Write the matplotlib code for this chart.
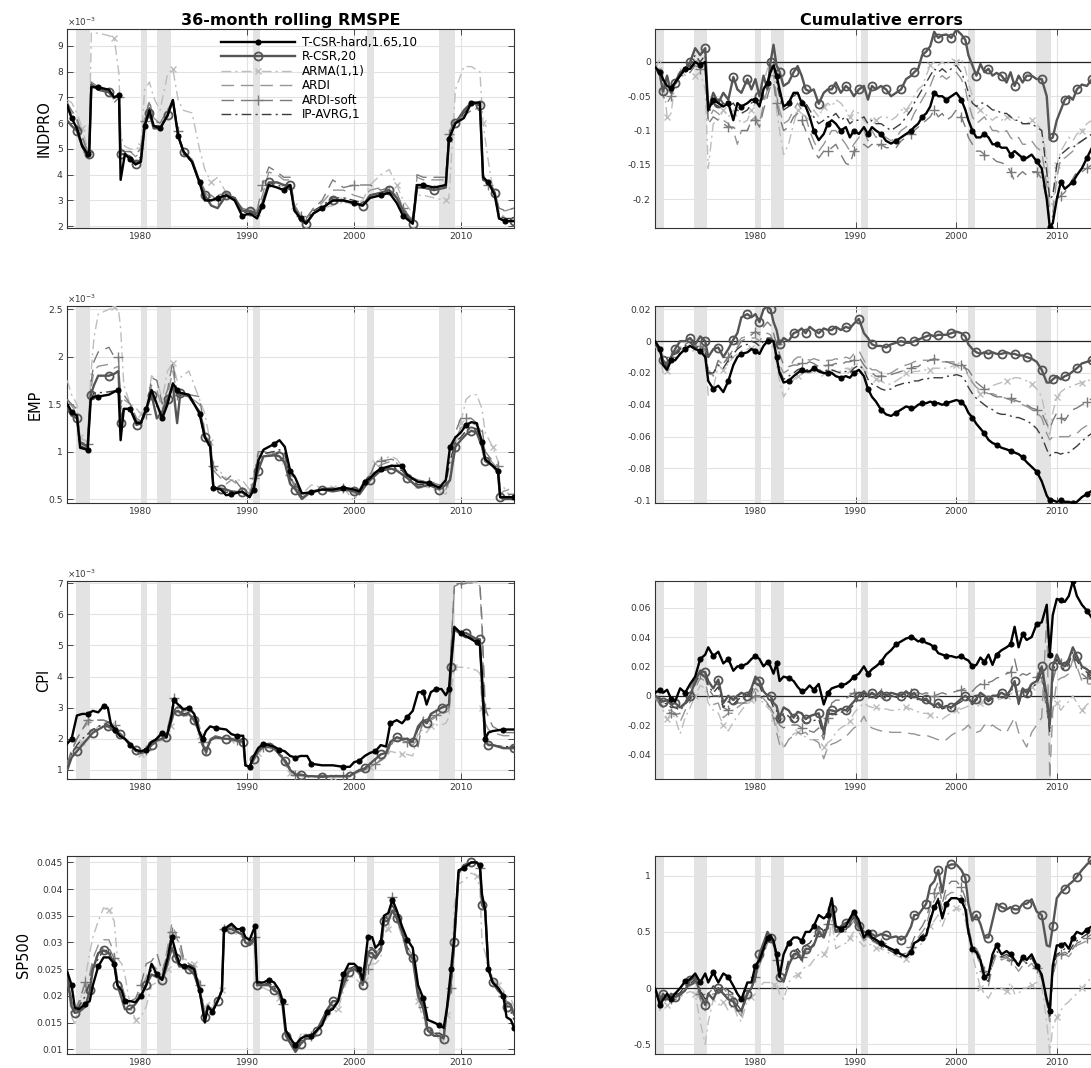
import numpy as np
import matplotlib
matplotlib.use("Agg")
import matplotlib.pyplot as plt
from matplotlib.ticker import FixedLocator, FuncFormatter

plt.rcParams['font.family'] = ['DejaVu Sans']
plt.rcParams['axes.unicode_minus'] = False

# ---------------------------------------------------------------- data
series_names = ["T-CSR-hard,1.65,10", "R-CSR,20", "ARMA(1,1)", "ARDI", "ARDI-soft", "IP-AVRG,1"]
row_labels = ["INDPRO", "EMP", "CPI", "SP500"]
titles = ["36-month rolling RMSPE", "Cumulative errors"]
recessions = [(1969.9, 1970.85), (1973.9, 1975.2), (1980.0, 1980.55), (1981.55, 1982.85),
              (1990.55, 1991.2), (2001.2, 2001.85), (2007.95, 2009.45)]
year_ticks = [1980, 1990, 2000, 2010]

# ---- rolling RMSPE, INDPRO (x 1e-3)
yrs_indpro = [1973.1, 1973.5, 1974.0, 1974.5, 1975.0, 1975.15, 1975.35, 1976.0, 1977.0, 1977.5,
              1977.95, 1978.1, 1978.5, 1979.0, 1979.5, 1980.0, 1980.35, 1980.8, 1981.2, 1981.8,
              1982.5, 1983.0, 1983.5, 1984.0, 1984.8, 1985.5, 1986.0, 1986.6, 1987.2, 1988.0,
              1988.8, 1989.5, 1990.2, 1990.9, 1991.4, 1992.0, 1992.8, 1993.4, 1994.0, 1994.4,
              1995.0, 1995.5, 1996.2, 1997.0, 1998.0, 1999.0, 2000.0, 2000.8, 2001.5, 2002.5,
              2003.3, 2004.0, 2004.6, 2005.5, 2005.9, 2006.5, 2007.5, 2008.6, 2008.9, 2009.5,
              2010.3, 2011.0, 2011.8, 2012.1, 2012.6, 2013.2, 2013.6, 2014.2, 2015.0]
indpro_tcsr = [6.7, 6.2, 5.8, 5.1, 4.8, 4.8, 7.4, 7.4, 7.3, 7.0, 7.1, 3.8, 4.8, 4.6, 4.4, 4.5, 5.9, 6.5, 5.9, 5.8,
               6.3, 6.9, 5.5, 4.9, 4.5, 3.7, 3.0, 3.0, 3.1, 3.2, 3.0, 2.4, 2.5, 2.3, 2.8, 3.6, 3.5, 3.4, 3.6, 2.6,
               2.3, 2.1, 2.5, 2.7, 3.0, 3.0, 2.9, 2.8, 3.1, 3.2, 3.3, 2.9, 2.4, 2.1, 3.6, 3.6, 3.5, 3.6, 5.4, 6.0,
               6.2, 6.8, 6.8, 3.9, 3.7, 3.2, 2.3, 2.2, 2.2]
indpro_rcsr = [6.1, 5.9, 5.7, 5.1, 4.7, 4.8, 7.5, 7.3, 7.2, 7.0, 7.1, 4.8, 4.8, 4.7, 4.4, 4.6, 5.9, 6.4, 5.8, 5.8,
               6.3, 6.9, 5.5, 4.9, 4.5, 3.7, 3.2, 2.8, 2.7, 3.2, 3.1, 2.6, 2.6, 2.5, 2.9, 3.7, 3.7, 3.6, 3.6, 2.7,
               2.2, 2.1, 2.5, 2.7, 3.0, 3.0, 2.9, 2.8, 3.2, 3.3, 3.4, 3.1, 2.6, 2.1, 3.5, 3.5, 3.4, 3.5, 5.4, 6.0,
               6.5, 6.8, 6.7, 3.8, 3.7, 3.3, 2.3, 2.2, 2.2]
indpro_arma = [6.9, 6.8, 6.4, 5.8, 5.0, 5.1, 9.5, 9.5, 9.4, 9.3, 7.9, 5.5, 5.1, 5.0, 5.0, 5.1, 7.3, 7.6, 7.0, 6.5,
               7.9, 8.1, 6.9, 6.5, 6.4, 5.0, 4.2, 3.7, 3.9, 3.3, 3.1, 2.6, 2.5, 2.5, 3.0, 3.7, 3.7, 3.5, 3.5, 2.8,
               2.4, 2.3, 2.5, 2.7, 2.8, 3.0, 2.8, 3.0, 3.6, 4.0, 4.2, 3.6, 3.0, 2.5, 3.2, 3.2, 3.1, 3.0, 3.1, 7.3,
               8.2, 8.2, 8.0, 6.0, 4.5, 3.0, 2.6, 2.3, 2.0]
indpro_ardi = [6.8, 6.4, 6.1, 5.4, 4.9, 5.0, 7.5, 7.4, 7.2, 6.9, 7.0, 5.0, 4.9, 4.9, 4.7, 4.9, 6.2, 6.8, 6.2, 6.0,
               6.5, 6.9, 5.6, 4.9, 4.6, 3.8, 3.3, 3.1, 3.2, 3.3, 3.1, 2.7, 2.7, 2.6, 3.2, 4.1, 4.0, 3.8, 3.8, 2.8,
               2.4, 2.3, 2.7, 2.9, 3.4, 3.4, 3.2, 3.1, 3.4, 3.5, 3.4, 3.2, 2.7, 2.3, 3.9, 3.8, 3.8, 3.8, 5.5, 6.0,
               6.3, 6.5, 6.6, 4.0, 3.7, 3.4, 2.6, 2.6, 2.7]
indpro_ardisoft = [6.8, 6.5, 6.2, 5.5, 4.9, 5.0, 7.6, 7.4, 7.2, 6.8, 7.0, 5.0, 4.9, 4.9, 4.8, 5.0, 6.1, 6.9, 6.1, 6.0,
                   6.5, 6.9, 5.7, 4.8, 4.6, 3.8, 3.4, 3.2, 3.0, 3.3, 3.0, 2.7, 2.6, 2.6, 3.6, 4.3, 4.1, 3.9, 3.9, 2.8,
                   2.4, 2.3, 2.7, 3.0, 3.8, 3.5, 3.6, 3.6, 3.6, 3.4, 3.5, 3.3, 2.7, 2.2, 4.0, 3.9, 3.9, 3.9, 5.6, 6.2,
                   6.3, 6.5, 6.5, 4.0, 3.6, 3.3, 2.7, 2.6, 2.7]
indpro_ipavrg = [6.6, 6.2, 5.9, 5.2, 4.8, 4.9, 7.4, 7.4, 7.2, 7.0, 7.1, 4.7, 4.8, 4.7, 4.5, 4.7, 6.0, 6.6, 5.9, 5.9,
                 6.3, 6.9, 5.5, 4.8, 4.5, 3.7, 3.1, 3.0, 3.1, 3.2, 3.1, 2.5, 2.6, 2.4, 2.9, 3.7, 3.6, 3.5, 3.6, 2.7,
                 2.3, 2.2, 2.6, 2.8, 3.1, 3.1, 3.0, 2.9, 3.2, 3.3, 3.4, 3.1, 2.6, 2.2, 3.6, 3.6, 3.5, 3.6, 5.4, 6.0,
                 6.4, 6.7, 6.7, 3.9, 3.7, 3.2, 2.4, 2.3, 2.3]

# ---- rolling RMSPE, EMP (x 1e-3)
yrs_emp = [1973.1, 1973.5, 1974.0, 1974.3, 1975.0, 1975.3, 1975.6, 1976.0, 1977.0, 1977.5,
           1977.9, 1978.1, 1978.4, 1979.0, 1979.6, 1980.0, 1980.5, 1981.0, 1981.5, 1982.0,
           1982.5, 1983.0, 1983.4, 1983.7, 1984.5, 1985.5, 1986.0, 1986.5, 1986.8, 1987.5,
           1988.0, 1988.5, 1989.5, 1990.2, 1990.6, 1991.0, 1991.5, 1992.5, 1993.0, 1993.5,
           1994.0, 1994.5, 1995.1, 1996.0, 1997.0, 1998.0, 1999.0, 2000.0, 2000.5, 2001.0,
           2001.5, 2002.0, 2002.5, 2003.5, 2004.0, 2004.5, 2005.0, 2006.0, 2007.0, 2008.0,
           2008.6, 2009.0, 2009.5, 2010.0, 2010.5, 2011.0, 2011.5, 2012.0, 2012.3, 2013.0,
           2013.5, 2013.7, 2014.0, 2015.0]
emp_tcsr = [1.50, 1.42, 1.38, 1.04, 1.02, 1.55, 1.58, 1.58, 1.60, 1.63, 1.65, 1.12, 1.45, 1.45, 1.30, 1.30, 1.45, 1.65, 1.50, 1.35,
            1.50, 1.72, 1.65, 1.62, 1.60, 1.40, 1.15, 1.05, 0.62, 0.60, 0.54, 0.55, 0.58, 0.52, 0.60, 0.90, 1.02, 1.08, 1.12, 1.05,
            0.80, 0.72, 0.56, 0.57, 0.60, 0.60, 0.62, 0.60, 0.58, 0.68, 0.72, 0.78, 0.82, 0.85, 0.85, 0.85, 0.75, 0.68, 0.67, 0.62,
            0.70, 1.05, 1.15, 1.20, 1.28, 1.31, 1.30, 1.10, 0.92, 0.85, 0.80, 0.52, 0.52, 0.52]
emp_rcsr = [1.45, 1.38, 1.35, 1.10, 1.05, 1.60, 1.70, 1.80, 1.80, 1.82, 1.85, 1.30, 1.45, 1.45, 1.28, 1.30, 1.45, 1.60, 1.35, 1.42,
            1.55, 1.70, 1.30, 1.62, 1.58, 1.42, 1.15, 1.10, 0.62, 0.61, 0.60, 0.58, 0.57, 0.52, 0.64, 0.80, 0.95, 0.96, 0.95, 0.88,
            0.66, 0.60, 0.50, 0.58, 0.60, 0.58, 0.60, 0.58, 0.55, 0.63, 0.70, 0.75, 0.80, 0.82, 0.80, 0.76, 0.72, 0.62, 0.65, 0.60,
            0.65, 0.70, 1.05, 1.12, 1.18, 1.22, 1.20, 1.05, 0.90, 0.85, 0.78, 0.52, 0.50, 0.50]
emp_arma = [1.75, 1.60, 1.50, 1.15, 1.10, 1.80, 2.20, 2.45, 2.50, 2.52, 2.50, 2.30, 1.70, 1.50, 1.45, 1.40, 1.45, 1.80, 1.75, 1.55,
            1.85, 1.93, 1.75, 1.78, 1.85, 1.55, 1.40, 1.10, 0.80, 0.78, 0.72, 0.70, 0.70, 0.60, 0.75, 0.98, 1.00, 1.00, 0.95, 0.90,
            0.80, 0.65, 0.55, 0.65, 0.62, 0.62, 0.62, 0.48, 0.60, 0.65, 0.78, 0.88, 0.92, 0.95, 0.92, 0.85, 0.75, 0.65, 0.62, 0.58,
            0.55, 0.68, 1.05, 1.30, 1.55, 1.60, 1.60, 1.45, 1.20, 1.05, 0.90, 0.65, 0.63, 0.46]
emp_ardi = [1.55, 1.48, 1.42, 1.08, 1.05, 1.65, 1.85, 1.90, 1.92, 1.88, 1.90, 1.45, 1.55, 1.50, 1.32, 1.30, 1.42, 1.70, 1.65, 1.45,
            1.60, 1.85, 1.60, 1.60, 1.58, 1.50, 1.18, 1.08, 0.80, 0.72, 0.66, 0.70, 0.62, 0.55, 0.68, 0.95, 0.98, 0.97, 0.98, 0.92,
            0.72, 0.62, 0.52, 0.58, 0.60, 0.60, 0.62, 0.56, 0.58, 0.66, 0.72, 0.82, 0.86, 0.90, 0.88, 0.82, 0.74, 0.68, 0.66, 0.62,
            0.60, 0.70, 1.12, 1.25, 1.28, 1.30, 1.28, 1.20, 0.98, 0.88, 0.82, 0.55, 0.58, 0.62]
emp_ardisoft = [1.55, 1.50, 1.45, 1.10, 1.08, 1.70, 1.95, 2.05, 2.10, 2.00, 2.00, 1.50, 1.60, 1.50, 1.35, 1.32, 1.40, 1.78, 1.75, 1.50,
                1.65, 1.95, 1.60, 1.60, 1.60, 1.58, 1.20, 1.10, 0.85, 0.75, 0.70, 0.75, 0.60, 0.55, 0.72, 1.00, 1.00, 0.98, 1.00, 0.95,
                0.75, 0.62, 0.55, 0.58, 0.60, 0.62, 0.62, 0.57, 0.60, 0.70, 0.75, 0.88, 0.90, 0.92, 0.90, 0.85, 0.75, 0.70, 0.68, 0.65,
                0.60, 0.72, 1.20, 1.35, 1.35, 1.35, 1.30, 1.25, 1.00, 0.90, 0.85, 0.55, 0.55, 0.55]
emp_ipavrg = [1.48, 1.40, 1.36, 1.06, 1.03, 1.55, 1.62, 1.62, 1.63, 1.64, 1.65, 1.30, 1.45, 1.45, 1.30, 1.28, 1.42, 1.62, 1.48, 1.38,
              1.52, 1.70, 1.62, 1.60, 1.58, 1.42, 1.15, 1.06, 0.62, 0.60, 0.57, 0.58, 0.57, 0.52, 0.62, 0.85, 0.98, 1.00, 1.02, 0.98,
              0.72, 0.66, 0.52, 0.58, 0.60, 0.59, 0.61, 0.59, 0.56, 0.65, 0.70, 0.76, 0.80, 0.83, 0.82, 0.80, 0.73, 0.65, 0.66, 0.61,
              0.66, 0.90, 1.10, 1.15, 1.22, 1.25, 1.24, 1.08, 0.92, 0.85, 0.80, 0.52, 0.51, 0.51]

# ---- rolling RMSPE, CPI (x 1e-3)
yrs_cpi = [1973.1, 1973.5, 1974.0, 1974.5, 1975.0, 1975.5, 1976.0, 1976.5, 1976.9, 1977.2,
           1977.6, 1978.0, 1978.5, 1979.0, 1979.5, 1980.0, 1980.5, 1981.0, 1981.5, 1982.0,
           1982.4, 1982.8, 1983.1, 1983.5, 1984.0, 1984.5, 1985.0, 1985.5, 1985.8, 1986.1,
           1986.5, 1987.0, 1988.0, 1988.5, 1989.0, 1989.6, 1989.8, 1990.2, 1990.6, 1991.0,
           1991.5, 1992.0, 1992.5, 1993.0, 1993.5, 1994.0, 1994.5, 1995.0, 1995.6, 1996.0,
           1997.0, 1998.0, 1999.0, 1999.6, 2000.0, 2000.5, 2001.0, 2001.5, 2002.0, 2002.5,
           2003.0, 2003.4, 2004.0, 2004.5, 2005.0, 2005.5, 2006.0, 2006.5, 2006.8, 2007.2,
           2007.7, 2008.2, 2008.6, 2008.9, 2009.1, 2009.4, 2010.0, 2010.5, 2011.0, 2011.5,
           2011.8, 2012.0, 2012.3, 2012.6, 2013.0, 2014.0, 2015.0]
cpi_tcsr = [1.85, 2.0, 2.75, 2.8, 2.8, 2.9, 2.85, 3.05, 3.0, 2.45, 2.3, 2.1, 2.0, 1.8, 1.65, 1.6, 1.65, 1.9, 2.0, 2.2,
            2.05, 2.6, 3.25, 3.1, 2.95, 3.0, 2.8, 2.2, 2.0, 2.25, 2.4, 2.35, 2.3, 2.15, 2.1, 2.1, 1.15, 1.1, 1.45, 1.7,
            1.85, 1.8, 1.75, 1.65, 1.6, 1.45, 1.4, 1.45, 1.45, 1.2, 1.15, 1.15, 1.1, 1.1, 1.25, 1.3, 1.45, 1.55, 1.6, 1.8,
            1.75, 2.5, 2.6, 2.5, 2.7, 2.9, 3.5, 3.5, 3.1, 3.5, 3.6, 3.6, 3.4, 3.6, 4.5, 5.6, 5.4, 5.3, 5.2, 5.1,
            5.0, 4.0, 2.0, 2.2, 2.25, 2.3, 2.3]
cpi_rcsr = [1.0, 1.4, 1.6, 1.8, 2.0, 2.2, 2.3, 2.4, 2.4, 2.35, 2.2, 2.15, 2.0, 1.85, 1.65, 1.55, 1.6, 1.8, 1.95, 2.0,
            2.05, 2.5, 2.85, 2.9, 2.75, 2.8, 2.6, 2.2, 1.8, 1.6, 1.95, 2.05, 2.0, 2.0, 1.95, 1.9, 1.15, 1.1, 1.35, 1.6,
            1.75, 1.75, 1.7, 1.5, 1.3, 1.0, 0.85, 0.85, 0.8, 0.8, 0.78, 0.8, 0.8, 0.8, 0.9, 1.0, 1.05, 1.2, 1.35, 1.5,
            1.55, 1.9, 2.05, 2.0, 2.0, 1.9, 2.4, 2.6, 2.5, 2.8, 2.9, 3.0, 3.05, 3.1, 4.3, 5.5, 5.4, 5.4, 5.3, 5.2,
            5.2, 3.7, 1.9, 1.8, 1.8, 1.7, 1.7]
cpi_arma = [1.25, 1.5, 1.7, 1.9, 2.0, 2.2, 2.4, 2.5, 2.5, 2.45, 2.35, 2.2, 2.0, 1.8, 1.6, 1.5, 1.55, 1.75, 1.9, 1.95,
            2.0, 2.4, 2.8, 2.85, 2.7, 2.75, 2.55, 2.1, 1.7, 1.45, 1.85, 2.0, 2.0, 1.95, 1.9, 1.85, 1.2, 1.15, 1.3, 1.55,
            1.7, 1.7, 1.65, 1.45, 1.2, 0.9, 0.8, 0.8, 0.75, 0.78, 0.8, 0.78, 0.78, 0.8, 0.85, 0.95, 1.0, 1.1, 1.2, 1.3,
            1.4, 1.6, 1.55, 1.5, 1.5, 1.45, 2.2, 2.3, 2.2, 2.4, 2.45, 2.45, 2.5, 2.7, 3.5, 4.3, 4.3, 4.3, 4.25, 4.2,
            4.1, 3.0, 1.9, 1.85, 1.8, 1.75, 1.75]
cpi_ardi = [1.15, 1.6, 2.0, 2.3, 2.5, 2.55, 2.6, 2.6, 2.55, 2.45, 2.4, 2.2, 2.0, 1.8, 1.6, 1.5, 1.6, 1.8, 2.0, 2.15,
            2.15, 2.7, 3.25, 3.15, 2.9, 2.9, 2.75, 2.4, 1.9, 1.5, 1.95, 2.05, 2.0, 1.95, 1.95, 1.9, 1.15, 1.1, 1.4, 1.6,
            1.75, 1.75, 1.65, 1.5, 1.3, 1.0, 0.85, 0.85, 0.82, 0.8, 0.8, 0.82, 0.8, 0.82, 0.9, 0.95, 1.0, 1.1, 1.2, 1.35,
            1.45, 1.85, 1.95, 1.95, 1.9, 1.8, 2.0, 2.6, 2.5, 2.6, 2.7, 2.8, 2.85, 2.9, 5.0, 6.8, 6.95, 7.0, 7.0, 7.0,
            6.9, 5.5, 2.5, 2.3, 2.2, 2.1, 2.1]
cpi_ardisoft = [1.2, 1.65, 2.0, 2.3, 2.6, 2.65, 2.6, 2.6, 2.55, 2.5, 2.45, 2.2, 2.05, 1.8, 1.6, 1.55, 1.65, 1.8, 2.05, 2.2,
                2.2, 2.75, 3.3, 3.2, 2.9, 2.95, 2.8, 2.4, 1.9, 1.5, 2.0, 2.1, 2.0, 1.95, 1.95, 1.95, 1.15, 1.1, 1.4, 1.6,
                1.75, 1.75, 1.7, 1.5, 1.3, 1.0, 0.85, 0.85, 0.82, 0.8, 0.8, 0.82, 0.82, 0.85, 0.9, 0.95, 1.0, 1.1, 1.2, 1.3,
                1.4, 1.8, 1.95, 1.95, 1.9, 1.85, 1.75, 2.7, 2.6, 2.65, 2.75, 2.85, 2.95, 3.0, 5.0, 6.9, 7.0, 7.05, 7.05, 7.05,
                7.0, 5.8, 3.0, 2.7, 2.4, 2.2, 2.2]
cpi_ipavrg = [1.05, 1.5, 1.8, 2.0, 2.15, 2.3, 2.4, 2.45, 2.45, 2.4, 2.3, 2.15, 2.0, 1.8, 1.6, 1.55, 1.6, 1.8, 1.95, 2.05,
              2.1, 2.6, 3.1, 3.0, 2.8, 2.85, 2.65, 2.25, 1.8, 1.55, 1.95, 2.05, 2.0, 2.0, 1.95, 1.9, 1.15, 1.1, 1.35, 1.6,
              1.75, 1.75, 1.7, 1.55, 1.35, 1.05, 0.88, 0.85, 0.82, 0.8, 0.8, 0.8, 0.8, 0.82, 0.9, 1.0, 1.05, 1.2, 1.35, 1.5,
              1.55, 1.9, 2.05, 2.0, 2.0, 1.9, 2.3, 2.6, 2.5, 2.75, 2.9, 3.0, 3.05, 3.1, 4.5, 5.5, 5.35, 5.35, 5.25, 5.2,
              5.1, 3.5, 1.9, 1.85, 1.8, 1.75, 1.75]

# ---- rolling RMSPE, SP500
yrs_sp500 = [1973.1, 1973.5, 1973.8, 1974.2, 1974.8, 1975.2, 1975.5, 1976.0, 1976.5, 1977.0,
             1977.5, 1977.8, 1978.2, 1978.5, 1979.0, 1979.5, 1980.0, 1980.5, 1981.0, 1981.5,
             1982.0, 1982.5, 1982.9, 1983.3, 1983.6, 1984.0, 1984.5, 1985.0, 1985.5, 1986.0,
             1986.3, 1986.7, 1987.2, 1987.6, 1987.8, 1988.5, 1989.0, 1989.5, 1989.8, 1990.2,
             1990.7, 1990.9, 1991.5, 1992.0, 1992.5, 1993.0, 1993.3, 1993.6, 1994.2, 1994.5,
             1995.0, 1995.5, 1996.0, 1996.5, 1997.0, 1997.5, 1998.0, 1998.5, 1999.0, 1999.5,
             2000.0, 2000.5, 2000.8, 2001.0, 2001.3, 2001.7, 2002.0, 2002.5, 2002.8, 2003.2,
             2003.6, 2004.0, 2004.5, 2005.0, 2005.5, 2006.0, 2006.5, 2006.9, 2007.5, 2008.0,
             2008.4, 2008.7, 2009.1, 2009.4, 2009.8, 2010.3, 2011.0, 2011.5, 2011.8, 2012.0,
             2012.3, 2012.6, 2013.0, 2013.5, 2014.0, 2014.3, 2014.7, 2015.0]
sp500_tcsr = [.0245, .022, .0178, .0175, .0185, .019, .022, .0255, .0272, .0272,
              .026, .022, .021, .019, .019, .0188, .020, .022, .026, .024,
              .023, .027, .031, .028, .026, .0255, .0255, .025, .021, .015,
              .018, .017, .019, .021, .0325, .0335, .0325, .0325, .031, .0305,
              .033, .0225, .0225, .023, .0225, .021, .019, .0135, .0115, .0108,
              .012, .0125, .0125, .0135, .0145, .017, .0175, .019, .024, .026,
              .026, .025, .023, .026, .031, .031, .029, .030, .035, .0355,
              .038, .036, .033, .0305, .029, .022, .0195, .0155, .015, .0145,
              .014, .0175, .025, .031, .0435, .044, .045, .045, .0445, .039,
              .036, .025, .0225, .0215, .020, .016, .0155, .014]
sp500_rcsr = [.0235, .018, .0168, .017, .018, .021, .025, .028, .0285, .028,
              .026, .022, .0195, .0175, .0175, .0185, .020, .022, .024, .0235,
              .023, .026, .029, .027, .0255, .0255, .025, .024, .021, .016,
              .018, .017, .019, .021, .0325, .0325, .032, .0315, .030, .0295,
              .0305, .022, .022, .022, .021, .0205, .018, .0125, .0105, .0095,
              .011, .012, .012, .0135, .0155, .0175, .019, .019, .022, .0245,
              .025, .0245, .022, .024, .028, .028, .027, .0285, .034, .034,
              .036, .0345, .032, .028, .027, .020, .0175, .0135, .0125, .0125,
              .012, .0175, .023, .030, .043, .0445, .045, .045, .044, .037,
              .036, .025, .0225, .021, .020, .018, .018, .0165]
sp500_arma = [.0235, .016, .0148, .018, .0235, .028, .031, .034, .0365, .036,
              .034, .027, .026, .024, .018, .0155, .016, .018, .022, .0225,
              .0225, .025, .029, .031, .030, .027, .0265, .026, .022, .0175,
              .019, .018, .0195, .021, .032, .032, .0315, .031, .030, .030,
              .030, .0215, .0215, .021, .021, .0195, .018, .013, .011, .0105,
              .0128, .0125, .0125, .013, .0145, .016, .017, .0175, .021, .0235,
              .0235, .0225, .021, .023, .025, .026, .026, .027, .032, .0325,
              .036, .034, .031, .028, .0265, .019, .0155, .0135, .0125, .012,
              .0115, .0165, .022, .037, .041, .0415, .043, .0425, .040, .030,
              .028, .025, .0235, .022, .021, .020, .0195, .018]
sp500_ardi = [.024, .019, .017, .0185, .021, .024, .027, .0295, .0305, .0305,
              .028, .023, .022, .0195, .0185, .019, .021, .0235, .026, .025,
              .024, .029, .0335, .0315, .029, .0265, .026, .0255, .0225, .0165,
              .0185, .017, .019, .021, .032, .033, .032, .0315, .030, .030,
              .031, .022, .022, .0225, .0215, .020, .0185, .013, .011, .010,
              .0115, .0125, .0125, .0135, .015, .017, .018, .019, .0225, .025,
              .025, .024, .022, .024, .028, .029, .028, .029, .034, .035,
              .037, .035, .032, .029, .0275, .021, .018, .014, .013, .013,
              .0125, .017, .0225, .030, .043, .044, .045, .045, .044, .038,
              .036, .025, .023, .0215, .0205, .019, .0185, .017]
sp500_ardisoft = [.0245, .019, .0172, .019, .0225, .0235, .026, .028, .029, .029,
                  .027, .023, .022, .020, .019, .0195, .022, .026, .0265, .028,
                  .0245, .028, .032, .031, .031, .027, .026, .0255, .022, .016,
                  .0185, .0175, .019, .021, .0325, .033, .032, .0315, .030, .030,
                  .031, .022, .022, .0225, .0215, .020, .0185, .013, .011, .010,
                  .012, .0128, .0125, .0135, .015, .017, .018, .019, .023, .025,
                  .025, .024, .022, .024, .025, .027, .028, .029, .034, .035,
                  .0385, .035, .032, .0285, .027, .021, .018, .014, .013, .0125,
                  .012, .0175, .0215, .029, .043, .044, .045, .045, .044, .038,
                  .0355, .025, .023, .0215, .020, .019, .0185, .017]
sp500_ipavrg = [.024, .0185, .017, .018, .020, .0225, .025, .027, .0285, .0285,
                .0265, .022, .021, .019, .018, .0185, .020, .022, .025, .024,
                .023, .0265, .030, .028, .026, .0255, .025, .025, .021, .0155,
                .018, .017, .019, .021, .0325, .033, .032, .0315, .030, .030,
                .031, .022, .022, .0225, .0215, .0205, .0185, .013, .0108, .010,
                .0115, .012, .0125, .0135, .015, .017, .018, .019, .023, .025,
                .0255, .0245, .0225, .025, .029, .029, .028, .029, .0345, .035,
                .037, .035, .0325, .029, .028, .021, .018, .014, .013, .013,
                .0125, .0175, .023, .030, .043, .0445, .045, .045, .0445, .038,
                .036, .025, .0225, .0215, .020, .017, .017, .0155]

# ---- cumulative errors (shared dates)
yrs_cum = [1970.0, 1970.5, 1970.8, 1971.2, 1971.6, 1972.0, 1972.5, 1973.0, 1973.5, 1974.0,
           1974.5, 1975.0, 1975.3, 1975.8, 1976.3, 1976.8, 1977.3, 1977.8, 1978.2, 1978.6,
           1979.2, 1979.6, 1980.0, 1980.4, 1980.8, 1981.2, 1981.5, 1981.8, 1982.1, 1982.4,
           1982.8, 1983.3, 1983.8, 1984.2, 1984.6, 1985.0, 1985.4, 1985.8, 1986.3, 1986.8,
           1987.2, 1987.6, 1988.0, 1988.5, 1989.0, 1989.4, 1989.8, 1990.3, 1990.8, 1991.2,
           1991.6, 1992.0, 1992.5, 1993.0, 1993.5, 1994.0, 1994.5, 1995.0, 1995.5, 1995.8,
           1996.2, 1996.6, 1997.0, 1997.4, 1997.8, 1998.2, 1998.6, 1999.0, 1999.5, 2000.0,
           2000.5, 2000.9, 2001.2, 2001.6, 2002.0, 2002.4, 2002.8, 2003.2, 2003.6, 2004.0,
           2004.5, 2005.0, 2005.4, 2005.8, 2006.2, 2006.6, 2007.0, 2007.5, 2008.0, 2008.5,
           2009.0, 2009.3, 2009.6, 2010.0, 2010.4, 2010.8, 2011.2, 2011.6, 2012.0, 2012.5,
           2013.0, 2013.5, 2014.0, 2014.5, 2015.0]

cum_indpro_tcsr = [-0.008, -0.015, -0.025, -0.035, -0.038, -0.03, -0.02, -0.01, -0.01, 0.0,
                   -0.005, 0.0, -0.07, -0.055, -0.06, -0.065, -0.06, -0.085, -0.06, -0.065,
                   -0.06, -0.055, -0.055, -0.065, -0.04, -0.03, -0.015, -0.005, -0.02, -0.04,
                   -0.065, -0.06, -0.045, -0.045, -0.06, -0.065, -0.08, -0.1, -0.114, -0.105,
                   -0.09, -0.085, -0.09, -0.1, -0.095, -0.11, -0.1, -0.105, -0.095, -0.105,
                   -0.095, -0.1, -0.105, -0.115, -0.119, -0.115, -0.11, -0.105, -0.1, -0.095,
                   -0.09, -0.08, -0.075, -0.065, -0.045, -0.05, -0.05, -0.055, -0.05, -0.045,
                   -0.055, -0.07, -0.085, -0.1, -0.11, -0.11, -0.105, -0.11, -0.12, -0.12,
                   -0.125, -0.125, -0.135, -0.13, -0.135, -0.14, -0.14, -0.135, -0.145, -0.155,
                   -0.2, -0.24, -0.235, -0.2, -0.175, -0.185, -0.18, -0.175, -0.165, -0.155,
                   -0.14, -0.125, -0.12, -0.118, -0.115]
cum_indpro_rcsr = [-0.005, -0.02, -0.043, -0.02, -0.045, -0.03, -0.015, -0.01, 0.0, 0.02,
                   0.01, 0.02, -0.07, -0.045, -0.06, -0.045, -0.055, -0.022, -0.04, -0.045,
                   -0.025, -0.04, -0.025, -0.05, -0.02, -0.04, 0.0, 0.025, -0.005, -0.014,
                   -0.035, -0.03, -0.015, -0.006, -0.02, -0.04, -0.043, -0.04, -0.061, -0.045,
                   -0.04, -0.04, -0.03, -0.045, -0.035, -0.04, -0.05, -0.04, -0.035, -0.055,
                   -0.035, -0.04, -0.035, -0.04, -0.05, -0.045, -0.04, -0.025, -0.02, -0.015,
                   -0.01, 0.01, 0.015, 0.023, 0.044, 0.035, 0.039, 0.04, 0.035, 0.047,
                   0.04, 0.032, 0.01, -0.005, -0.02, -0.003, -0.015, -0.01, -0.02, -0.016,
                   -0.02, -0.03, -0.015, -0.035, -0.02, -0.03, -0.02, -0.02, -0.025, -0.025,
                   -0.05, -0.113, -0.11, -0.085, -0.07, -0.055, -0.05, -0.055, -0.04, -0.033,
                   -0.035, -0.025, -0.03, -0.025, -0.02]
cum_indpro_arma = [-0.01, 0.005, -0.02, -0.08, -0.075, -0.03, -0.01, -0.02, -0.015, -0.02,
                   -0.015, -0.04, -0.155, -0.09, -0.085, -0.07, -0.08, -0.07, -0.08, -0.09,
                   -0.085, -0.07, -0.06, -0.065, -0.03, -0.01, 0.0, -0.01, -0.07, -0.1,
                   -0.135, -0.12, -0.09, -0.07, -0.075, -0.08, -0.085, -0.07, -0.08, -0.065,
                   -0.06, -0.065, -0.055, -0.06, -0.07, -0.08, -0.07, -0.075, -0.085, -0.09,
                   -0.08, -0.085, -0.08, -0.08, -0.085, -0.08, -0.07, -0.07, -0.06, -0.05,
                   -0.04, -0.035, -0.02, -0.005, 0.0, -0.005, 0.0, -0.005, 0.005, 0.0,
                   0.005, -0.01, -0.03, -0.05, -0.065, -0.07, -0.075, -0.08, -0.085, -0.08,
                   -0.085, -0.08, -0.08, -0.085, -0.08, -0.09, -0.09, -0.085, -0.09, -0.1,
                   -0.14, -0.2, -0.21, -0.15, -0.13, -0.12, -0.11, -0.115, -0.105, -0.1,
                   -0.09, -0.085, -0.08, -0.08, -0.075]
cum_indpro_ardi = [-0.01, -0.01, -0.03, -0.04, -0.045, -0.03, -0.02, -0.015, -0.01, 0.005,
                   -0.005, 0.0, -0.085, -0.07, -0.075, -0.085, -0.09, -0.1, -0.12, -0.1,
                   -0.1, -0.085, -0.08, -0.09, -0.06, -0.04, -0.02, -0.02, -0.05, -0.07,
                   -0.09, -0.085, -0.07, -0.06, -0.07, -0.08, -0.1, -0.115, -0.13, -0.12,
                   -0.11, -0.1, -0.1, -0.11, -0.12, -0.13, -0.12, -0.11, -0.1, -0.115,
                   -0.1, -0.11, -0.105, -0.11, -0.115, -0.11, -0.1, -0.095, -0.085, -0.075,
                   -0.065, -0.055, -0.045, -0.035, -0.02, -0.025, -0.02, -0.025, -0.02, -0.015,
                   -0.025, -0.04, -0.06, -0.08, -0.09, -0.085, -0.08, -0.09, -0.1, -0.1,
                   -0.105, -0.1, -0.11, -0.115, -0.11, -0.12, -0.12, -0.115, -0.125, -0.13,
                   -0.18, -0.215, -0.22, -0.17, -0.14, -0.14, -0.135, -0.13, -0.12, -0.115,
                   -0.11, -0.105, -0.1, -0.1, -0.095]
cum_indpro_ardisoft = [-0.01, -0.02, -0.05, -0.06, -0.05, -0.035, -0.02, -0.02, -0.015, -0.005,
                       -0.01, -0.01, -0.09, -0.08, -0.085, -0.09, -0.095, -0.095, -0.1, -0.1,
                       -0.1, -0.085, -0.085, -0.095, -0.07, -0.05, -0.035, -0.03, -0.06, -0.08,
                       -0.1, -0.095, -0.08, -0.075, -0.085, -0.1, -0.115, -0.13, -0.14, -0.13,
                       -0.13, -0.125, -0.12, -0.135, -0.148, -0.15, -0.13, -0.125, -0.12, -0.125,
                       -0.12, -0.125, -0.12, -0.125, -0.125, -0.125, -0.115, -0.11, -0.105, -0.1,
                       -0.095, -0.09, -0.085, -0.08, -0.07, -0.08, -0.075, -0.085, -0.08, -0.07,
                       -0.08, -0.095, -0.11, -0.12, -0.13, -0.13, -0.135, -0.14, -0.14, -0.145,
                       -0.147, -0.15, -0.16, -0.174, -0.165, -0.16, -0.165, -0.16, -0.16, -0.17,
                       -0.2, -0.23, -0.225, -0.2, -0.195, -0.19, -0.18, -0.17, -0.16, -0.16,
                       -0.155, -0.15, -0.145, -0.14, -0.14]
cum_indpro_ipavrg = [-0.008, -0.015, -0.03, -0.025, -0.04, -0.03, -0.02, -0.01, -0.005, 0.01,
                     0.0, 0.01, -0.075, -0.06, -0.065, -0.06, -0.065, -0.06, -0.07, -0.075,
                     -0.07, -0.06, -0.055, -0.065, -0.04, -0.03, -0.01, 0.0, -0.03, -0.05,
                     -0.07, -0.065, -0.05, -0.045, -0.055, -0.06, -0.07, -0.08, -0.09, -0.085,
                     -0.08, -0.08, -0.075, -0.085, -0.08, -0.09, -0.085, -0.085, -0.08, -0.09,
                     -0.085, -0.09, -0.09, -0.095, -0.1, -0.095, -0.09, -0.08, -0.07, -0.06,
                     -0.05, -0.04, -0.03, -0.02, -0.01, -0.015, -0.01, -0.015, -0.01, -0.005,
                     -0.015, -0.03, -0.045, -0.06, -0.065, -0.06, -0.06, -0.065, -0.07, -0.07,
                     -0.075, -0.075, -0.08, -0.085, -0.085, -0.09, -0.09, -0.09, -0.095, -0.1,
                     -0.16, -0.2, -0.195, -0.15, -0.135, -0.13, -0.125, -0.125, -0.12, -0.115,
                     -0.11, -0.105, -0.1, -0.1, -0.095]

cum_emp_tcsr = [0.0, -0.005, -0.015, -0.018, -0.012, -0.012, -0.008, -0.005, -0.003, -0.005,
                -0.006, -0.01, -0.025, -0.03, -0.028, -0.032, -0.025, -0.015, -0.01, -0.008,
                -0.007, -0.005, -0.006, -0.008, -0.003, 0.0, 0.0, 0.0, -0.01, -0.02,
                -0.026, -0.025, -0.022, -0.02, -0.018, -0.019, -0.019, -0.017, -0.019, -0.02,
                -0.02, -0.02, -0.022, -0.023, -0.022, -0.023, -0.02, -0.018, -0.022, -0.03,
                -0.035, -0.038, -0.043, -0.046, -0.047, -0.045, -0.043, -0.041, -0.042, -0.042,
                -0.04, -0.039, -0.039, -0.038, -0.039, -0.039, -0.04, -0.039, -0.038, -0.037,
                -0.038, -0.041, -0.045, -0.048, -0.052, -0.055, -0.058, -0.062, -0.064, -0.065,
                -0.067, -0.068, -0.069, -0.07, -0.071, -0.073, -0.076, -0.079, -0.082, -0.088,
                -0.097, -0.1, -0.1, -0.101, -0.1, -0.101, -0.101, -0.102, -0.101, -0.098,
                -0.096, -0.094, -0.093, -0.092, -0.09]
cum_emp_rcsr = [0.0, -0.005, -0.012, -0.015, -0.01, -0.005, 0.0, 0.0, 0.002, -0.002,
                0.003, 0.0, -0.01, -0.005, -0.004, -0.01, -0.005, 0.001, 0.005, 0.015,
                0.017, 0.015, 0.017, 0.012, 0.02, 0.022, 0.02, 0.012, 0.007, -0.002,
                0.002, 0.0, 0.005, 0.006, 0.008, 0.005, 0.009, 0.007, 0.005, 0.008,
                0.007, 0.007, 0.009, 0.007, 0.009, 0.008, 0.011, 0.014, 0.005, 0.002,
                -0.002, -0.003, -0.003, -0.004, -0.002, -0.001, 0.0, -0.001, -0.001, 0.0,
                0.001, 0.002, 0.003, 0.004, 0.003, 0.004, 0.004, 0.004, 0.005, 0.006,
                0.005, 0.003, -0.002, -0.005, -0.007, -0.008, -0.007, -0.008, -0.007, -0.008,
                -0.008, -0.007, -0.008, -0.008, -0.009, -0.009, -0.01, -0.011, -0.013, -0.018,
                -0.026, -0.026, -0.024, -0.022, -0.024, -0.022, -0.021, -0.019, -0.017, -0.014,
                -0.013, -0.012, -0.011, -0.01, -0.01]
cum_emp_arma = [-0.003, -0.008, -0.02, -0.019, -0.012, -0.008, -0.005, -0.004, -0.002, -0.004,
                -0.005, -0.008, -0.034, -0.03, -0.015, -0.018, -0.014, -0.01, -0.008, -0.006,
                -0.005, -0.004, -0.005, -0.005, -0.003, 0.0, 0.0, -0.002, -0.015, -0.025,
                -0.035, -0.03, -0.024, -0.022, -0.021, -0.02, -0.02, -0.019, -0.02, -0.02,
                -0.019, -0.019, -0.018, -0.019, -0.017, -0.018, -0.015, -0.014, -0.018, -0.02,
                -0.022, -0.024, -0.025, -0.027, -0.027, -0.025, -0.023, -0.02, -0.02, -0.019,
                -0.019, -0.018, -0.018, -0.018, -0.017, -0.017, -0.017, -0.017, -0.016, -0.015,
                -0.016, -0.018, -0.022, -0.025, -0.03, -0.033, -0.032, -0.03, -0.028, -0.027,
                -0.026, -0.025, -0.024, -0.023, -0.023, -0.024, -0.025, -0.027, -0.03, -0.035,
                -0.05, -0.06, -0.045, -0.035, -0.032, -0.03, -0.029, -0.028, -0.027, -0.026,
                -0.025, -0.024, -0.022, -0.021, -0.02]
cum_emp_ardi = [-0.002, -0.006, -0.014, -0.016, -0.01, -0.007, -0.004, -0.002, 0.0, -0.003,
                -0.003, -0.006, -0.018, -0.022, -0.012, -0.015, -0.01, -0.005, -0.002, 0.002,
                0.003, 0.002, 0.002, 0.0, 0.004, 0.005, 0.004, 0.0, -0.008, -0.015,
                -0.02, -0.018, -0.012, -0.01, -0.01, -0.011, -0.012, -0.011, -0.012, -0.013,
                -0.012, -0.012, -0.011, -0.012, -0.01, -0.011, -0.008, -0.006, -0.012, -0.016,
                -0.018, -0.018, -0.02, -0.021, -0.02, -0.018, -0.016, -0.015, -0.014, -0.013,
                -0.012, -0.012, -0.012, -0.012, -0.012, -0.012, -0.013, -0.013, -0.013, -0.013,
                -0.014, -0.017, -0.022, -0.026, -0.029, -0.031, -0.032, -0.033, -0.033, -0.034,
                -0.035, -0.036, -0.037, -0.038, -0.039, -0.04, -0.041, -0.043, -0.045, -0.048,
                -0.058, -0.062, -0.06, -0.06, -0.06, -0.06, -0.06, -0.058, -0.058, -0.055,
                -0.053, -0.05, -0.05, -0.048, -0.047]
cum_emp_ardisoft = [-0.002, -0.006, -0.015, -0.017, -0.01, -0.007, -0.004, -0.002, 0.0, -0.003,
                    -0.003, -0.005, -0.02, -0.022, -0.012, -0.014, -0.01, -0.006, -0.004, 0.0,
                    0.002, 0.004, 0.006, 0.004, 0.009, 0.012, 0.01, 0.005, -0.002, -0.008,
                    -0.015, -0.016, -0.015, -0.015, -0.014, -0.014, -0.013, -0.014, -0.016, -0.016,
                    -0.015, -0.015, -0.014, -0.015, -0.013, -0.013, -0.012, -0.01, -0.015, -0.018,
                    -0.02, -0.022, -0.022, -0.022, -0.021, -0.02, -0.019, -0.018, -0.017, -0.016,
                    -0.016, -0.014, -0.013, -0.012, -0.011, -0.012, -0.012, -0.013, -0.014, -0.015,
                    -0.015, -0.017, -0.018, -0.022, -0.026, -0.028, -0.03, -0.032, -0.034, -0.035,
                    -0.035, -0.036, -0.036, -0.037, -0.038, -0.038, -0.04, -0.042, -0.043, -0.045,
                    -0.052, -0.055, -0.05, -0.045, -0.048, -0.05, -0.046, -0.043, -0.042, -0.04,
                    -0.038, -0.036, -0.035, -0.034, -0.033]
cum_emp_ipavrg = [-0.002, -0.006, -0.014, -0.016, -0.01, -0.008, -0.005, -0.003, -0.001, -0.004,
                  -0.004, -0.006, -0.02, -0.02, -0.015, -0.017, -0.012, -0.008, -0.005, -0.003,
                  -0.002, 0.0, -0.001, -0.003, 0.0, 0.002, 0.002, 0.0, -0.01, -0.018,
                  -0.024, -0.022, -0.02, -0.018, -0.017, -0.018, -0.018, -0.017, -0.018, -0.019,
                  -0.018, -0.018, -0.019, -0.02, -0.019, -0.02, -0.017, -0.015, -0.018, -0.024,
                  -0.027, -0.028, -0.03, -0.031, -0.03, -0.028, -0.027, -0.026, -0.026, -0.025,
                  -0.025, -0.024, -0.024, -0.023, -0.023, -0.023, -0.023, -0.022, -0.022, -0.021,
                  -0.022, -0.025, -0.029, -0.033, -0.036, -0.038, -0.04, -0.042, -0.043, -0.045,
                  -0.046, -0.046, -0.047, -0.048, -0.048, -0.049, -0.05, -0.052, -0.055, -0.06,
                  -0.068, -0.072, -0.07, -0.07, -0.071, -0.07, -0.07, -0.068, -0.066, -0.063,
                  -0.06, -0.058, -0.056, -0.055, -0.054]

cum_cpi_tcsr = [0.002, 0.004, 0.002, 0.004, -0.002, -0.004, 0.005, 0.002, 0.008, 0.013,
                0.025, 0.028, 0.033, 0.027, 0.03, 0.022, 0.025, 0.017, 0.02, 0.02,
                0.022, 0.025, 0.027, 0.025, 0.02, 0.023, 0.02, 0.015, 0.022, 0.01,
                0.013, 0.012, 0.01, 0.006, 0.003, 0.004, 0.007, 0.004, 0.008, -0.006,
                0.002, 0.005, 0.006, 0.007, 0.008, 0.01, 0.013, 0.015, 0.02, 0.015,
                0.018, 0.02, 0.023, 0.028, 0.031, 0.035, 0.037, 0.039, 0.04, 0.039,
                0.037, 0.038, 0.036, 0.035, 0.033, 0.029, 0.028, 0.027, 0.027, 0.026,
                0.027, 0.025, 0.024, 0.02, 0.021, 0.026, 0.023, 0.028, 0.021, 0.028,
                0.031, 0.033, 0.035, 0.047, 0.033, 0.042, 0.038, 0.04, 0.049, 0.05,
                0.062, 0.028, 0.055, 0.066, 0.065, 0.064, 0.068, 0.078, 0.068, 0.062,
                0.058, 0.053, 0.054, 0.053, 0.052]
cum_cpi_rcsr = [0.0, -0.002, -0.004, -0.003, -0.006, -0.005, -0.008, -0.005, 0.0, 0.01,
                0.017, 0.016, 0.01, 0.005, 0.011, -0.005, 0.0, -0.003, 0.0, 0.002,
                0.0, 0.005, 0.013, 0.01, 0.003, 0.0, 0.0, -0.005, -0.007, -0.015,
                -0.008, -0.01, -0.015, -0.011, -0.012, -0.016, -0.014, -0.013, -0.012, -0.025,
                -0.01, -0.01, -0.011, -0.009, -0.01, -0.007, -0.004, 0.0, 0.003, 0.0,
                0.002, 0.0, 0.003, 0.0, 0.002, 0.001, 0.0, 0.003, 0.0, 0.002,
                -0.002, -0.003, -0.002, -0.005, -0.007, -0.005, -0.008, -0.007, -0.008, -0.005,
                -0.002, 0.0, -0.002, -0.005, -0.002, 0.002, 0.0, -0.003, 0.0, 0.0,
                0.002, 0.0, 0.004, 0.01, -0.005, 0.005, 0.002, 0.008, 0.01, 0.02,
                0.0, -0.02, 0.02, 0.028, 0.022, 0.02, 0.025, 0.033, 0.027, 0.02,
                0.018, 0.015, 0.014, 0.014, 0.013]
cum_cpi_arma = [-0.002, -0.006, -0.01, -0.016, -0.012, -0.015, -0.026, -0.015, -0.008, 0.0,
                0.007, 0.005, -0.005, -0.01, -0.012, -0.02, -0.024, -0.018, -0.014, -0.01,
                -0.005, -0.003, 0.0, -0.002, -0.005, -0.008, -0.01, -0.015, -0.02, -0.028,
                -0.035, -0.03, -0.026, -0.025, -0.027, -0.028, -0.03, -0.03, -0.03, -0.035,
                -0.032, -0.03, -0.025, -0.022, -0.02, -0.017, -0.012, -0.008, -0.005, -0.007,
                -0.008, -0.008, -0.009, -0.009, -0.01, -0.01, -0.009, -0.008, -0.009, -0.01,
                -0.011, -0.012, -0.012, -0.013, -0.014, -0.015, -0.016, -0.014, -0.012, -0.01,
                -0.009, -0.008, -0.007, -0.006, -0.005, -0.005, -0.005, -0.005, -0.004, -0.003,
                -0.002, 0.0, 0.001, 0.003, 0.003, 0.004, 0.005, 0.006, 0.008, 0.01,
                -0.005, -0.02, -0.01, -0.005, -0.01, -0.006, -0.004, 0.0, -0.005, -0.01,
                -0.006, -0.004, -0.003, -0.003, -0.003]
cum_cpi_ardi = [-0.001, -0.004, -0.008, -0.01, -0.01, -0.012, -0.018, -0.01, -0.004, 0.005,
                0.012, 0.01, 0.0, -0.006, -0.005, -0.015, -0.012, -0.012, -0.008, -0.006,
                -0.003, 0.0, 0.005, 0.002, -0.002, -0.005, -0.01, -0.015, -0.025, -0.033,
                -0.036, -0.03, -0.027, -0.025, -0.026, -0.025, -0.028, -0.03, -0.032, -0.043,
                -0.035, -0.033, -0.032, -0.03, -0.028, -0.025, -0.022, -0.02, -0.014, -0.02,
                -0.022, -0.023, -0.024, -0.024, -0.025, -0.025, -0.025, -0.025, -0.026, -0.026,
                -0.027, -0.027, -0.027, -0.028, -0.029, -0.03, -0.031, -0.03, -0.027, -0.025,
                -0.024, -0.022, -0.02, -0.024, -0.025, -0.024, -0.02, -0.022, -0.02, -0.022,
                -0.024, -0.025, -0.02, -0.015, -0.025, -0.03, -0.035, -0.025, -0.02, -0.015,
                0.055, -0.0568, -0.01, 0.01, 0.012, 0.013, 0.015, 0.025, 0.02, 0.01,
                0.008, 0.008, 0.007, 0.006, 0.006]
cum_cpi_ardisoft = [-0.002, -0.005, -0.008, -0.01, -0.012, -0.013, -0.012, -0.005, 0.005, 0.012,
                    0.015, 0.012, 0.005, 0.0, 0.0, -0.008, -0.01, -0.005, -0.005, -0.005,
                    -0.005, -0.002, 0.0, 0.0, -0.003, -0.006, -0.008, -0.012, -0.015, -0.02,
                    -0.022, -0.02, -0.02, -0.02, -0.022, -0.022, -0.024, -0.025, -0.022, -0.03,
                    -0.015, -0.005, -0.003, -0.003, -0.002, 0.0, 0.002, 0.003, 0.003, 0.0,
                    0.001, 0.0, 0.002, 0.001, 0.0, 0.002, 0.001, 0.002, 0.002, 0.003,
                    0.002, 0.001, 0.002, 0.001, 0.0, 0.001, 0.002, 0.001, 0.002, 0.003,
                    0.004, 0.005, 0.004, 0.003, 0.006, 0.008, 0.008, 0.009, 0.01, 0.012,
                    0.013, 0.015, 0.016, 0.025, 0.013, 0.015, 0.014, 0.016, 0.013, 0.012,
                    -0.01, -0.02, 0.01, 0.02, 0.022, 0.022, 0.025, 0.028, 0.018, 0.015,
                    0.012, 0.011, 0.01, 0.01, 0.01]
cum_cpi_ipavrg = [0.0, -0.003, -0.006, -0.005, -0.008, -0.008, -0.01, -0.006, -0.002, 0.008,
                  0.015, 0.014, 0.007, 0.002, 0.006, -0.008, -0.004, -0.006, -0.003, -0.001,
                  -0.002, 0.002, 0.01, 0.007, 0.0, -0.002, -0.003, -0.008, -0.01, -0.018,
                  -0.012, -0.014, -0.018, -0.015, -0.016, -0.019, -0.018, -0.017, -0.016, -0.028,
                  -0.013, -0.012, -0.013, -0.011, -0.012, -0.009, -0.006, -0.002, 0.002, -0.002,
                  0.0, -0.002, 0.001, -0.002, 0.0, -0.001, -0.002, 0.001, -0.002, 0.0,
                  -0.003, -0.004, -0.003, -0.006, -0.008, -0.006, -0.009, -0.008, -0.009, -0.006,
                  -0.004, -0.002, -0.004, -0.006, -0.003, 0.0, -0.002, -0.004, -0.002, -0.002,
                  0.0, -0.002, 0.002, 0.008, -0.006, 0.003, 0.0, 0.006, 0.008, 0.016,
                  -0.005, -0.025, 0.015, 0.025, 0.02, 0.018, 0.022, 0.03, 0.024, 0.018,
                  0.016, 0.013, 0.012, 0.012, 0.011]

cum_sp500_tcsr = [0.0, -0.15, -0.1, -0.05, -0.1, -0.05, 0.0, 0.06, 0.08, 0.13,
                  0.05, 0.13, 0.05, 0.14, 0.05, 0.13, 0.1, 0.02, -0.05, -0.1,
                  0.05, 0.05, 0.2, 0.25, 0.35, 0.45, 0.47, 0.42, 0.3, 0.1,
                  0.3, 0.4, 0.45, 0.45, 0.42, 0.5, 0.5, 0.55, 0.65, 0.62,
                  0.65, 0.8, 0.55, 0.53, 0.55, 0.62, 0.68, 0.6, 0.45, 0.5,
                  0.45, 0.43, 0.4, 0.37, 0.35, 0.33, 0.3, 0.28, 0.32, 0.4,
                  0.42, 0.45, 0.47, 0.6, 0.72, 0.78, 0.62, 0.75, 0.8, 0.8,
                  0.78, 0.7, 0.5, 0.35, 0.32, 0.25, 0.1, 0.12, 0.3, 0.38,
                  0.3, 0.33, 0.3, 0.25, 0.2, 0.28, 0.25, 0.3, 0.2, 0.12,
                  -0.1, -0.2, 0.2, 0.38, 0.38, 0.4, 0.35, 0.45, 0.5, 0.48,
                  0.52, 0.55, 0.58, 0.6, 0.62]
cum_sp500_rcsr = [0.0, -0.12, -0.05, -0.1, -0.05, -0.08, -0.06, -0.02, 0.07, 0.1,
                  -0.05, -0.15, -0.05, -0.1, 0.0, -0.05, -0.1, -0.12, -0.2, -0.2,
                  -0.05, 0.0, 0.1, 0.3, 0.4, 0.5, 0.45, 0.4, 0.3, 0.1,
                  0.06, 0.2, 0.3, 0.31, 0.25, 0.35, 0.35, 0.38, 0.5, 0.45,
                  0.55, 0.7, 0.5, 0.55, 0.58, 0.6, 0.65, 0.55, 0.5, 0.49,
                  0.48, 0.46, 0.48, 0.47, 0.45, 0.46, 0.43, 0.46, 0.55, 0.65,
                  0.65, 0.7, 0.75, 0.91, 0.95, 1.05, 0.85, 1.08, 1.1, 1.1,
                  1.05, 0.98, 0.75, 0.6, 0.65, 0.57, 0.45, 0.45, 0.6, 0.75,
                  0.72, 0.7, 0.72, 0.7, 0.7, 0.75, 0.75, 0.79, 0.68, 0.65,
                  0.38, 0.37, 0.55, 0.8, 0.85, 0.88, 0.92, 0.95, 0.99, 1.05,
                  1.1, 1.14, 1.17, 1.175, 1.17]
cum_sp500_arma = [0.0, -0.2, -0.12, -0.15, -0.12, -0.1, -0.08, -0.05, -0.03, -0.05,
                  -0.3, -0.5, -0.3, -0.1, -0.15, -0.12, -0.2, -0.15, -0.25, -0.3,
                  -0.1, -0.08, -0.05, 0.0, 0.05, 0.05, 0.05, 0.03, 0.05, -0.05,
                  -0.1, 0.05, 0.1, 0.12, 0.15, 0.2, 0.2, 0.25, 0.3, 0.3,
                  0.35, 0.6, 0.35, 0.38, 0.4, 0.45, 0.5, 0.42, 0.37, 0.4,
                  0.38, 0.36, 0.35, 0.33, 0.3, 0.29, 0.27, 0.26, 0.3, 0.35,
                  0.37, 0.4, 0.45, 0.55, 0.6, 0.65, 0.55, 0.65, 0.68, 0.71,
                  0.7, 0.6, 0.45, 0.3, 0.15, 0.0, -0.05, -0.09, -0.02, 0.0,
                  0.0, -0.03, 0.05, -0.05, -0.05, 0.0, 0.0, 0.03, 0.05, 0.02,
                  -0.3, -0.58, -0.35, -0.26, -0.2, -0.15, -0.12, -0.08, -0.05, 0.0,
                  0.05, 0.1, 0.12, 0.15, 0.17]
cum_sp500_ardi = [0.0, -0.18, -0.1, -0.12, -0.1, -0.08, -0.05, 0.0, 0.02, 0.05,
                  -0.1, -0.2, -0.1, -0.05, -0.05, -0.02, -0.05, -0.1, -0.2, -0.25,
                  -0.05, 0.0, 0.1, 0.2, 0.3, 0.4, 0.42, 0.38, 0.25, 0.1,
                  0.05, 0.2, 0.28, 0.3, 0.25, 0.32, 0.33, 0.38, 0.5, 0.45,
                  0.55, 0.7, 0.45, 0.5, 0.5, 0.55, 0.6, 0.5, 0.42, 0.45,
                  0.42, 0.4, 0.38, 0.36, 0.33, 0.32, 0.3, 0.3, 0.35, 0.42,
                  0.45, 0.5, 0.55, 0.7, 0.78, 0.85, 0.7, 0.82, 0.85, 0.85,
                  0.82, 0.75, 0.5, 0.35, 0.3, 0.2, 0.05, 0.02, 0.2, 0.3,
                  0.25, 0.27, 0.22, 0.2, 0.15, 0.2, 0.18, 0.22, 0.15, 0.08,
                  -0.15, -0.3, 0.1, 0.25, 0.28, 0.3, 0.28, 0.33, 0.38, 0.4,
                  0.42, 0.45, 0.47, 0.48, 0.5]
cum_sp500_ardisoft = [0.0, -0.17, -0.1, -0.12, -0.1, -0.08, -0.05, 0.0, 0.03, 0.06,
                      -0.05, -0.15, -0.05, 0.0, -0.03, 0.0, -0.05, -0.08, -0.18, -0.22,
                      -0.05, 0.0, 0.1, 0.22, 0.32, 0.42, 0.44, 0.38, 0.25, 0.1,
                      0.05, 0.22, 0.3, 0.32, 0.28, 0.35, 0.35, 0.4, 0.52, 0.47,
                      0.57, 0.72, 0.48, 0.52, 0.52, 0.57, 0.62, 0.52, 0.44, 0.46,
                      0.44, 0.42, 0.4, 0.38, 0.35, 0.33, 0.3, 0.31, 0.37, 0.45,
                      0.5, 0.55, 0.62, 0.75, 0.85, 0.95, 0.75, 0.9, 0.95, 0.95,
                      0.9, 0.8, 0.55, 0.38, 0.35, 0.28, 0.15, 0.12, 0.25, 0.3,
                      0.27, 0.28, 0.25, 0.22, 0.22, 0.25, 0.22, 0.27, 0.18, 0.1,
                      -0.12, -0.22, 0.15, 0.28, 0.3, 0.32, 0.3, 0.35, 0.4, 0.42,
                      0.45, 0.48, 0.5, 0.52, 0.53]
cum_sp500_ipavrg = [0.0, -0.16, -0.1, -0.1, -0.1, -0.07, -0.04, 0.02, 0.04, 0.08,
                    -0.02, -0.1, -0.05, 0.02, -0.02, 0.02, -0.02, -0.05, -0.15, -0.2,
                    -0.03, 0.0, 0.12, 0.22, 0.32, 0.42, 0.44, 0.4, 0.28, 0.1,
                    0.08, 0.25, 0.32, 0.35, 0.3, 0.38, 0.4, 0.45, 0.55, 0.5,
                    0.58, 0.72, 0.5, 0.5, 0.52, 0.58, 0.63, 0.55, 0.45, 0.47,
                    0.43, 0.41, 0.38, 0.35, 0.33, 0.3, 0.28, 0.28, 0.33, 0.4,
                    0.43, 0.47, 0.5, 0.63, 0.72, 0.8, 0.65, 0.75, 0.8, 0.8,
                    0.78, 0.7, 0.5, 0.35, 0.3, 0.22, 0.08, 0.06, 0.25, 0.33,
                    0.28, 0.3, 0.27, 0.22, 0.2, 0.25, 0.22, 0.27, 0.18, 0.1,
                    -0.12, -0.25, 0.15, 0.3, 0.32, 0.35, 0.32, 0.38, 0.42, 0.45,
                    0.48, 0.5, 0.52, 0.54, 0.56]

# ---------------------------------------------------------------- styles
STYLES = [
    dict(color='#000000', lw=1.7, ls='-', marker='o', ms=3.6, mfc='#000000', mec='#000000', mew=0.8, zorder=6),
    dict(color='#555555', lw=1.7, ls='-', marker='o', ms=5.8, mfc='none', mec='#555555', mew=1.3, zorder=5),
    dict(color='#bdbdbd', lw=1.0, ls=(0, (7, 3, 1.5, 3)), marker='x', ms=4.5, mew=1.0, zorder=3),
    dict(color='#959595', lw=1.0, ls=(0, (9, 5)), marker='None', zorder=3),
    dict(color='#7a7a7a', lw=1.0, ls=(0, (9, 5)), marker='+', ms=7, mew=1.0, zorder=4),
    dict(color='#3c3c3c', lw=1.0, ls=(0, (7, 3, 1.5, 3)), marker='None', zorder=4),
]
MARKEVERY = [(1, 3), (2, 3), (3, 6), None, (4, 6), None]
DRAW_ORDER = [2, 3, 4, 5, 1, 0]

LEFT = (0.06141, 0.40972)
RIGHT = (0.60037, 0.41430)
ROWS = [(0.78652, 0.18633), (0.52903, 0.18446), (0.27060, 0.18539), (0.01311, 0.18539)]

fmt = FuncFormatter(lambda v, p: '%g' % round(v, 6))

left_panels = [
    (yrs_indpro, [indpro_tcsr, indpro_rcsr, indpro_arma, indpro_ardi, indpro_ardisoft, indpro_ipavrg],
     (1.93, 9.66), [2, 3, 4, 5, 6, 7, 8, 9], True),
    (yrs_emp, [emp_tcsr, emp_rcsr, emp_arma, emp_ardi, emp_ardisoft, emp_ipavrg],
     (0.458, 2.535), [0.5, 1, 1.5, 2, 2.5], True),
    (yrs_cpi, [cpi_tcsr, cpi_rcsr, cpi_arma, cpi_ardi, cpi_ardisoft, cpi_ipavrg],
     (0.71, 7.07), [1, 2, 3, 4, 5, 6, 7], True),
    (yrs_sp500, [sp500_tcsr, sp500_rcsr, sp500_arma, sp500_ardi, sp500_ardisoft, sp500_ipavrg],
     (0.0091, 0.0462), [0.01, 0.015, 0.02, 0.025, 0.03, 0.035, 0.04, 0.045], False),
]
right_panels = [
    ([cum_indpro_tcsr, cum_indpro_rcsr, cum_indpro_arma, cum_indpro_ardi, cum_indpro_ardisoft, cum_indpro_ipavrg],
     (-0.242, 0.048), [-0.2, -0.15, -0.1, -0.05, 0]),
    ([cum_emp_tcsr, cum_emp_rcsr, cum_emp_arma, cum_emp_ardi, cum_emp_ardisoft, cum_emp_ipavrg],
     (-0.1017, 0.0221), [-0.1, -0.08, -0.06, -0.04, -0.02, 0, 0.02]),
    ([cum_cpi_tcsr, cum_cpi_rcsr, cum_cpi_arma, cum_cpi_ardi, cum_cpi_ardisoft, cum_cpi_ipavrg],
     (-0.0568, 0.0782), [-0.04, -0.02, 0, 0.02, 0.04, 0.06]),
    ([cum_sp500_tcsr, cum_sp500_rcsr, cum_sp500_arma, cum_sp500_ardi, cum_sp500_ardisoft, cum_sp500_ipavrg],
     (-0.586, 1.175), [-0.5, 0, 0.5, 1]),
]


def style_axes(ax, xlim, ylim, yticks):
    ax.set_xlim(*xlim)
    ax.set_ylim(*ylim)
    ax.xaxis.set_major_locator(FixedLocator(year_ticks))
    ax.yaxis.set_major_locator(FixedLocator(yticks))
    ax.yaxis.set_major_formatter(fmt)
    ax.grid(True, color='#e2e2e2', lw=0.8, zorder=0)
    ax.set_axisbelow(True)
    for s in ax.spines.values():
        s.set_color('#333333')
        s.set_linewidth(0.8)
    ax.tick_params(direction='in', length=4, width=0.6, top=True, right=True,
                   labelsize=6.6, colors='#333333', pad=3)
    for a, b in recessions:
        ax.axvspan(a, b, color='#e3e3e3', lw=0, zorder=0.6)


def draw_series(ax, x, ys):
    lines = [None] * len(ys)
    for i in DRAW_ORDER:
        y = ys[i]
        n = min(len(x), len(y))
        st = dict(STYLES[i])
        ln, = ax.plot(x[:n], y[:n], markevery=MARKEVERY[i], label=series_names[i], **st)
        lines[i] = ln
    return lines


fig = plt.figure(figsize=(10.91, 10.68), dpi=100)

legend_lines = None
for r, (x, ys, ylim, yticks, scaled) in enumerate(left_panels):
    b, h = ROWS[r]
    ax = fig.add_axes([LEFT[0], b, LEFT[1], h])
    style_axes(ax, (1973.07, 2015.0), ylim, yticks)
    lines = draw_series(ax, x, ys)
    ax.set_ylabel(row_labels[r], fontsize=10.5, labelpad=4)
    if scaled:
        ax.text(0.0, 1.005, r'$\times10^{-3}$', transform=ax.transAxes, fontsize=6.3,
                ha='left', va='bottom', color='#333333')
    if r == 0:
        ax.set_title(titles[0], fontsize=11.5, fontweight='bold', pad=3)
        legend_lines = lines
        ax.legend(legend_lines, series_names, loc='upper left', bbox_to_anchor=(0.345, 0.965),
                  frameon=False, fontsize=8.6, handlelength=6.2, handletextpad=0.55,
                  labelspacing=0.12, numpoints=1, borderaxespad=0, borderpad=0)

for r, (ys, ylim, yticks) in enumerate(right_panels):
    b, h = ROWS[r]
    ax = fig.add_axes([RIGHT[0], b, RIGHT[1], h])
    style_axes(ax, (1970.0, 2015.0), ylim, yticks)
    ax.axhline(0, color='#222222', lw=0.9, zorder=2)
    draw_series(ax, yrs_cum, ys)
    if r == 0:
        ax.set_title(titles[1], fontsize=11.5, fontweight='bold', pad=3)

fig.savefig('out.png', dpi=100)
